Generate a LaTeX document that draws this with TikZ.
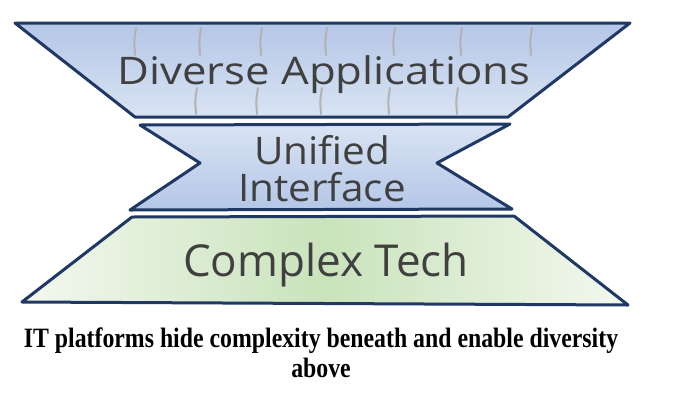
\documentclass[tikz,border=0pt]{standalone}
\usepackage{fontspec}
\setmainfont{Liberation Serif}
\newfontfamily\handfont{Open Sans}
\usetikzlibrary{positioning}

\definecolor{navy}{HTML}{1F3864}
\definecolor{blueTop}{HTML}{B4C7E7}
\definecolor{blueLow}{HTML}{D9E3F3}
\definecolor{greenMid}{HTML}{C9E3BB}
\definecolor{greenEdge}{HTML}{F3F8EF}
\definecolor{ink}{HTML}{404040}

\begin{document}
\begin{tikzpicture}[x=1pt, y=-1pt,
    layer/.style={draw=navy, line width=3pt, line join=round},
    brick/.style={draw=gray!60, line width=2pt, line cap=round},
    handtext/.style={font=\handfont\fontsize{38}{40}\selectfont, text=ink, inner sep=0pt},
    caption/.style={font=\bfseries\fontsize{28}{30}\selectfont, align=center, inner sep=0pt}]

  \useasboundingbox (0,0) rectangle (692,402);

  % top layer
  \shade[top color=blueTop, bottom color=blueLow] (15,23) -- (630,23) -- (508,117) -- (135,117) -- cycle;
  \foreach \x in {136,201,262,327,395,462,532}
    \draw[brick] (\x,28) .. controls (\x-2,40) .. (\x-1,55);
  \foreach \x in {197,258,322,390,458}
    \draw[brick] (\x,88) .. controls (\x-2,100) .. (\x-1,114);
  \draw[layer] (15,23) -- (630,23) -- (508,117) -- (135,117) -- cycle;
  \node[handtext, xscale=1.15] (apps) at (324,75) {Diverse Applications};

  % middle layer
  \shade[top color=blueLow, bottom color=blueTop] (140,125) -- (510,124) -- (437,163) -- (512,209) -- (130,210) -- (200,163) -- cycle;
  \draw[layer] (140,125) -- (510,124) -- (437,163) -- (512,209) -- (130,210) -- (200,163) -- cycle;
  \node[handtext, xscale=1.065] (unified) at (322,150) {Unified};
  \node[handtext, xscale=1.065] (iface) at (322,187) {Interface};

  % bottom layer
  \shade[left color=greenEdge, right color=greenEdge, middle color=greenMid] (132,217) -- (514,216) -- (628,305) -- (22,302) -- cycle;
  \draw[layer] (132,217) -- (514,216) -- (628,305) -- (22,302) -- cycle;
  \node[handtext, font=\handfont\fontsize{44}{46}\selectfont] (tech) at (326,265) {Complex Tech};

  % caption
  \node[caption, xscale=0.85] (cap) at (321,353) {IT platforms hide complexity beneath and enable diversity\\above};
\end{tikzpicture}
\end{document}
